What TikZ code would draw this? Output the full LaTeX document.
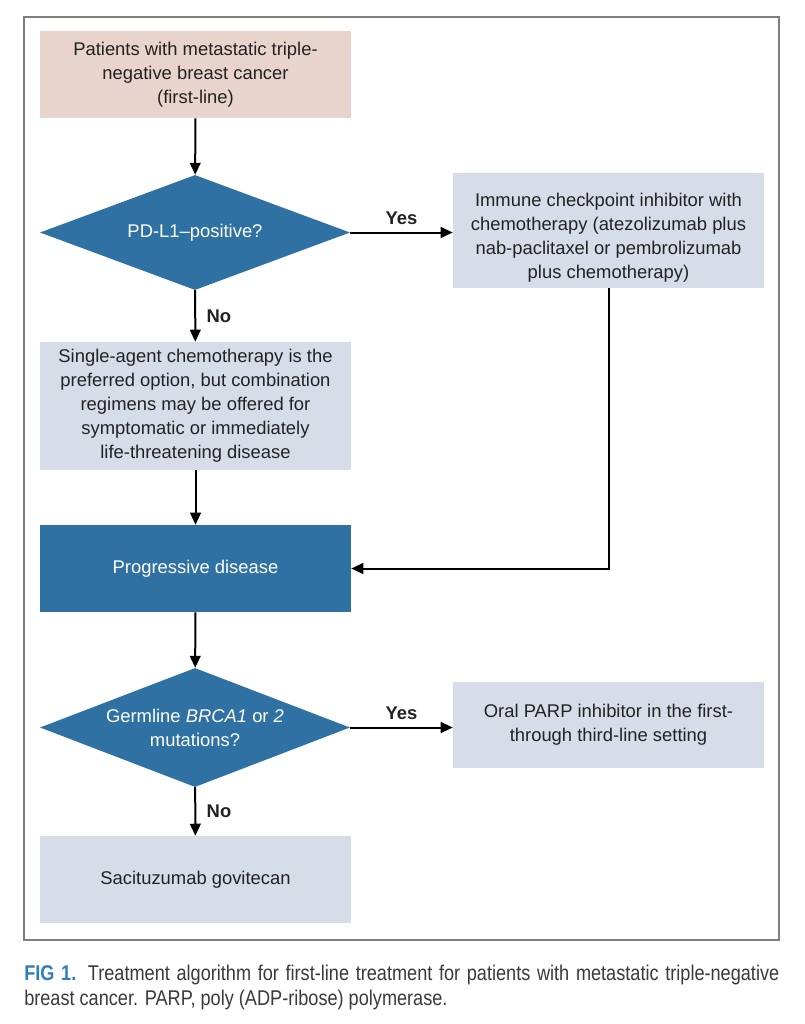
\documentclass[tikz,border=0pt]{standalone}
\usepackage{fontspec}
\setmainfont{Liberation Sans}
\newfontfamily\capfont{Liberation Sans}[FakeStretch=0.85]
\usetikzlibrary{shapes.geometric,arrows.meta}
\definecolor{pinkbox}{HTML}{E8D3CD}
\definecolor{lightbox}{HTML}{D6DDE9}
\definecolor{darkblue}{HTML}{3071A3}
\definecolor{framegray}{HTML}{7F7F7F}
\definecolor{capblue}{HTML}{2F7DBA}
\definecolor{txt}{HTML}{222222}
\definecolor{captxt}{HTML}{3A3A3A}
\begin{document}
\begin{tikzpicture}[x=0.75pt,y=-0.75pt,
  boxfont/.style={font=\fontsize{13.8}{18}\selectfont},
  rectbox/.style={rectangle, inner sep=0pt, minimum width=233.25pt, align=center, boxfont, text=txt},
  pinkb/.style={rectbox, fill=pinkbox},
  lightb/.style={rectbox, fill=lightbox},
  darkb/.style={rectbox, fill=darkblue, text=white},
  decision/.style={diamond, fill=darkblue, text=white, inner sep=0pt, aspect=2.6, minimum width=232.5pt, align=center, boxfont},
  flow/.style={line width=1.5pt, -{Triangle[length=9pt,width=8pt]}},
  lbl/.style={font=\bfseries\fontsize{13.8}{18}\selectfont, text=txt}]
\useasboundingbox (0,0) rectangle (804,1024);
\fill[white] (0,0) rectangle (804,1024);
\draw[framegray, line width=1.2pt] (24,17) rectangle (779,940);

\node[pinkb, minimum height=65.25pt] (start) at (195.5,74.5) {Patients with metastatic triple-\\negative breast cancer\\(first-line)};
\node[decision, minimum height=86.25pt] (d1) at (195,232.5) {PD-L1–positive?};
\node[lightb, minimum height=86.25pt] (r1) at (608.5,230.5) {\rule{0pt}{21pt}Immune checkpoint inhibitor with\\chemotherapy (atezolizumab plus\\nab-paclitaxel or pembrolizumab\\plus chemotherapy)};
\node[lightb, minimum height=96pt] (b2) at (195.5,406) {Single-agent chemotherapy is the\\preferred option, but combination\\regimens may be offered for\\symptomatic or immediately\\life-threatening disease};
\node[darkb, minimum height=65.25pt] (pd) at (195.5,568.5) {Progressive disease};
\node[decision, minimum height=89.25pt] (d2) at (195,727.5) {Germline \textit{BRCA1} or \textit{2}\\mutations?};
\node[lightb, minimum height=64.5pt] (r2) at (608.5,725) {Oral PARP inhibitor in the first-\\through third-line setting};
\node[lightb, minimum height=65.25pt] (last) at (195.5,879.5) {Sacituzumab govitecan};

\draw[flow] (start) -- (d1);
\draw[flow] (d1.east) -- node[lbl, above=2pt] {Yes} (d1.east -| r1.west);
\draw[flow] (d1) -- node[lbl, right=4.5pt] {No} (b2);
\draw[flow] (b2) -- (pd);
\draw[flow] (r1.south) |- (pd.east);
\draw[flow] (pd) -- (d2);
\draw[flow] (d2.east) -- node[lbl, above=2pt] {Yes} (d2.east -| r2.west);
\draw[flow] (d2) -- node[lbl, right=4.5pt] {No} (last);

\node[anchor=north west, inner sep=0pt, text width=566.25pt, align=justify, font=\capfont\fontsize{16}{18.75}\selectfont, text=captxt] (cap) at (24,965) {\textcolor{capblue}{\textbf{FIG 1.}} Treatment algorithm for first-line treatment for patients with metastatic \mbox{triple-negative}\linebreak breast cancer. PARP, poly (ADP-ribose) polymerase.};
\end{tikzpicture}
\end{document}
